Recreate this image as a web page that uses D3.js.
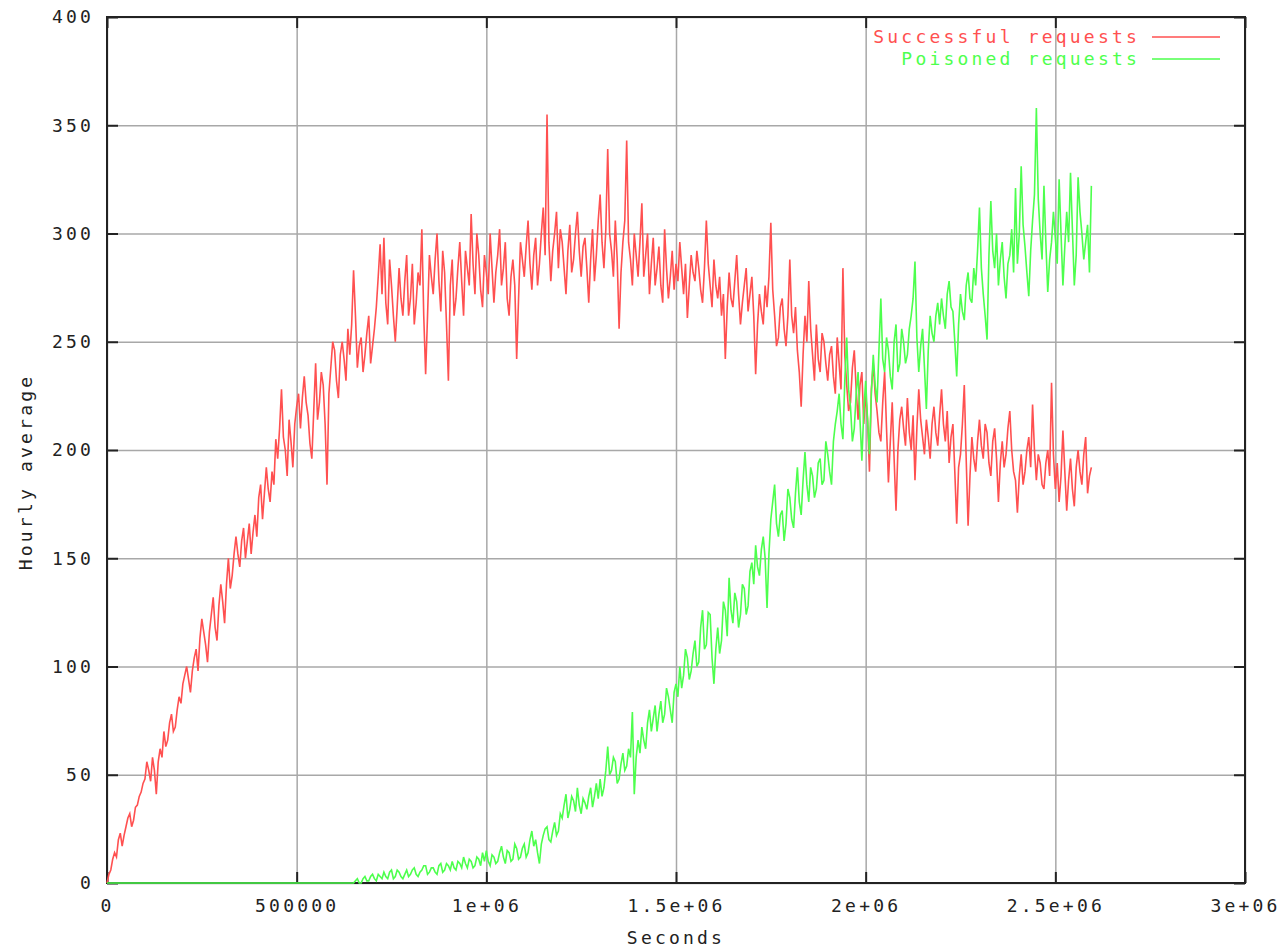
<!DOCTYPE html>
<html>
<head>
<meta charset="utf-8">
<script src="https://cdn.jsdelivr.net/npm/d3@7"></script>
<style>
  body { margin: 0; background: #fff; }
  text { font-family: "DejaVu Sans Mono", monospace; font-size: 18px; letter-spacing: 3.2px; }
</style>
</head>
<body>
<svg id="chart" width="1285" height="949"></svg>
<script>
// one sample every 5000 s, one row = 100000 s
const stepSeconds = 5000

const successful = [
  0, 4, 6, 11, 14, 12, 20, 23, 17, 22, 26, 30, 32, 26, 29, 35, 36, 40, 42, 46,
  48, 56, 52, 47, 58, 52, 41, 56, 62, 58, 70, 63, 66, 74, 78, 70, 72, 80, 86, 83,
  92, 96, 100, 94, 88, 98, 104, 108, 98, 113, 122, 116, 110, 102, 116, 124, 132, 118, 112, 128,
  138, 130, 120, 138, 150, 136, 142, 152, 160, 152, 146, 158, 164, 150, 158, 166, 152, 162, 170, 160,
  178, 184, 168, 180, 192, 182, 176, 190, 184, 205, 196, 210, 228, 206, 200, 188, 214, 204, 192, 212,
  220, 226, 210, 224, 234, 222, 216, 203, 196, 218, 240, 214, 222, 236, 230, 212, 184, 226, 238, 250,
  246, 232, 224, 244, 250, 242, 232, 256, 244, 258, 283, 262, 238, 248, 252, 236, 244, 254, 262, 240,
  248, 256, 266, 280, 295, 272, 298, 268, 258, 288, 276, 262, 250, 266, 284, 270, 262, 278, 290, 262,
  270, 286, 258, 268, 282, 276, 302, 262, 235, 262, 290, 280, 272, 288, 300, 278, 264, 292, 282, 258,
  232, 276, 288, 262, 270, 284, 296, 278, 262, 292, 284, 276, 309, 286, 272, 300, 290, 274, 266, 290,
  282, 272, 300, 284, 268, 282, 290, 302, 276, 284, 296, 270, 262, 280, 288, 276, 242, 270, 296, 288,
  280, 294, 306, 286, 274, 290, 298, 276, 286, 300, 312, 290, 355, 296, 278, 292, 300, 310, 284, 302,
  296, 284, 272, 292, 304, 282, 288, 300, 310, 292, 280, 294, 298, 284, 268, 288, 302, 278, 290, 306,
  318, 296, 284, 302, 339, 300, 292, 280, 306, 288, 256, 282, 296, 306, 343, 296, 288, 276, 300, 290,
  280, 296, 314, 280, 290, 300, 272, 286, 298, 276, 284, 294, 276, 268, 302, 284, 270, 280, 292, 274,
  286, 278, 296, 284, 272, 286, 261, 276, 290, 282, 278, 292, 284, 274, 268, 284, 306, 286, 276, 266,
  288, 276, 270, 280, 262, 272, 242, 266, 282, 270, 266, 278, 290, 272, 258, 268, 276, 284, 264, 272,
  280, 262, 235, 258, 272, 264, 258, 276, 266, 280, 305, 274, 262, 248, 252, 266, 270, 256, 248, 262,
  288, 262, 254, 266, 246, 236, 220, 244, 262, 250, 278, 256, 244, 232, 258, 242, 236, 254, 250, 240,
  232, 244, 248, 234, 226, 252, 240, 228, 284, 244, 230, 218, 222, 238, 246, 228, 214, 230, 236, 212,
  226, 214, 190, 228, 240, 226, 218, 208, 204, 222, 236, 210, 185, 204, 222, 196, 172, 200, 214, 220,
  210, 202, 224, 208, 200, 216, 186, 210, 228, 214, 206, 198, 214, 206, 196, 212, 220, 208, 202, 216,
  228, 212, 204, 218, 194, 206, 212, 190, 166, 192, 198, 212, 230, 196, 165, 188, 206, 196, 190, 204,
  214, 202, 196, 212, 208, 194, 188, 204, 210, 196, 176, 194, 204, 192, 198, 210, 218, 200, 190, 186,
  171, 188, 198, 184, 190, 200, 206, 192, 221, 200, 186, 198, 194, 184, 182, 194, 200, 188, 231, 198,
  182, 194, 176, 188, 209, 190, 172, 186, 196, 182, 174, 192, 200, 190, 184, 198, 206, 180, 188, 192
]

const poisoned = [
  0, 0, 0, 0, 0, 0, 0, 0, 0, 0, 0, 0, 0, 0, 0, 0, 0, 0, 0, 0,
  0, 0, 0, 0, 0, 0, 0, 0, 0, 0, 0, 0, 0, 0, 0, 0, 0, 0, 0, 0,
  0, 0, 0, 0, 0, 0, 0, 0, 0, 0, 0, 0, 0, 0, 0, 0, 0, 0, 0, 0,
  0, 0, 0, 0, 0, 0, 0, 0, 0, 0, 0, 0, 0, 0, 0, 0, 0, 0, 0, 0,
  0, 0, 0, 0, 0, 0, 0, 0, 0, 0, 0, 0, 0, 0, 0, 0, 0, 0, 0, 0,
  0, 0, 0, 0, 0, 0, 0, 0, 0, 0, 0, 0, 0, 0, 0, 0, 0, 0, 0, 0,
  0, 0, 0, 0, 0, 0, 0, 0, 0, 0, 0, 1, 2, 0, 0, 2, 3, 1, 1, 3,
  4, 2, 1, 4, 3, 2, 5, 3, 2, 5, 6, 2, 3, 6, 5, 3, 2, 4, 6, 3,
  4, 6, 7, 4, 3, 5, 6, 8, 8, 4, 5, 7, 7, 5, 4, 8, 9, 5, 6, 9,
  8, 6, 10, 7, 6, 10, 9, 7, 12, 9, 7, 11, 10, 7, 8, 12, 11, 8, 14, 10,
  15, 10, 8, 13, 12, 9, 10, 14, 17, 12, 9, 15, 14, 10, 11, 18, 16, 11, 12, 16,
  18, 12, 14, 20, 24, 17, 20, 14, 9, 18, 22, 25, 26, 20, 19, 24, 28, 22, 24, 32,
  30, 36, 41, 30, 34, 40, 38, 33, 44, 36, 32, 39, 37, 34, 40, 44, 35, 40, 46, 39,
  48, 40, 44, 52, 63, 50, 52, 58, 56, 46, 48, 55, 60, 52, 54, 62, 58, 79, 41, 58,
  66, 60, 72, 66, 62, 74, 80, 70, 76, 82, 70, 78, 84, 74, 78, 90, 86, 80, 74, 88,
  92, 86, 100, 90, 96, 108, 104, 94, 98, 106, 112, 100, 102, 118, 126, 108, 110, 125, 124, 104,
  92, 108, 118, 106, 112, 130, 126, 114, 141, 126, 120, 134, 130, 118, 124, 138, 136, 124, 128, 144,
  148, 138, 156, 146, 142, 154, 160, 150, 127, 152, 168, 176, 184, 166, 160, 170, 172, 158, 166, 182,
  178, 168, 164, 180, 192, 176, 170, 186, 199, 184, 176, 192, 188, 178, 182, 194, 196, 184, 186, 204,
  198, 190, 184, 204, 212, 218, 226, 212, 205, 232, 252, 228, 220, 204, 210, 226, 236, 214, 195, 218,
  232, 214, 198, 226, 244, 230, 222, 246, 270, 242, 236, 252, 246, 234, 228, 250, 258, 236, 240, 256,
  250, 240, 244, 256, 262, 270, 287, 252, 236, 248, 256, 238, 219, 246, 262, 254, 250, 262, 268, 258,
  270, 262, 256, 272, 278, 266, 264, 250, 234, 258, 272, 264, 260, 276, 282, 270, 268, 284, 276, 292,
  312, 284, 272, 262, 251, 290, 315, 292, 284, 300, 276, 288, 296, 280, 270, 286, 290, 302, 282, 321,
  286, 300, 331, 304, 294, 282, 271, 292, 306, 318, 358, 316, 300, 288, 322, 296, 273, 288, 296, 310,
  298, 286, 325, 300, 276, 294, 310, 296, 328, 302, 276, 290, 326, 310, 300, 288, 296, 304, 282, 322
]

const xTicks = [0, 500000, 1000000, 1500000, 2000000, 2500000, 3000000]
const xTickLabels = ['0', '500000', '1e+06', '1.5e+06', '2e+06', '2.5e+06', '3e+06']
const yTicks = [0, 50, 100, 150, 200, 250, 300, 350, 400]

const seriesNames = ['Successful requests', 'Poisoned requests']
const seriesColors = ['#ff5050', '#4dff4d']

const plotLeft = 107
const plotRight = 1245
const plotTop = 17
const plotBottom = 883
const tickLen = 11

const svg = d3.select('#chart')

const x = d3.scaleLinear().domain([0, 3000000]).range([plotLeft, plotRight])
const y = d3.scaleLinear().domain([0, 400]).range([plotBottom, plotTop])

// grid
svg.append('g')
  .attr('transform', `translate(0,${plotBottom})`)
  .call(d3.axisBottom(x).tickValues(xTicks).tickSize(-(plotBottom - plotTop)).tickFormat(''))
  .call(g => g.select('.domain').remove())
  .selectAll('line').attr('stroke', '#a8a8a8').attr('stroke-width', 1.5)
svg.append('g')
  .attr('transform', `translate(${plotLeft},0)`)
  .call(d3.axisLeft(y).tickValues(yTicks).tickSize(-(plotRight - plotLeft)).tickFormat(''))
  .call(g => g.select('.domain').remove())
  .selectAll('line').attr('stroke', '#a8a8a8').attr('stroke-width', 1.5)

// frame + inward ticks
function styleAxis (g) {
  g.select('.domain').remove()
  g.selectAll('line').attr('stroke', '#222').attr('stroke-width', 2)
  g.selectAll('text').attr('fill', '#222').style('font-family', '"DejaVu Sans Mono", monospace').style('font-size', '18px')
}
svg.append('g')
  .attr('transform', `translate(0,${plotBottom})`)
  .call(d3.axisBottom(x).tickValues(xTicks).tickSize(-tickLen).tickPadding(16)
    .tickFormat((d, i) => xTickLabels[i]))
  .call(styleAxis)
svg.append('g')
  .attr('transform', `translate(0,${plotTop})`)
  .call(d3.axisTop(x).tickValues(xTicks).tickSize(-tickLen).tickFormat(''))
  .call(styleAxis)
svg.append('g')
  .attr('transform', `translate(${plotLeft},0)`)
  .call(d3.axisLeft(y).tickValues(yTicks).tickSize(-tickLen).tickPadding(13))
  .call(styleAxis)
svg.append('g')
  .attr('transform', `translate(${plotRight},0)`)
  .call(d3.axisRight(y).tickValues(yTicks).tickSize(-tickLen).tickFormat(''))
  .call(styleAxis)

svg.append('rect')
  .attr('x', plotLeft).attr('y', plotTop)
  .attr('width', plotRight - plotLeft).attr('height', plotBottom - plotTop)
  .attr('fill', 'none').attr('stroke', '#222').attr('stroke-width', 2)

// series
const line = d3.line()
  .x((d, i) => x(i * stepSeconds))
  .y(d => y(d))

;[successful, poisoned].forEach((vals, k) => {
  svg.append('path')
    .datum(vals)
    .attr('fill', 'none')
    .attr('stroke', seriesColors[k])
    .attr('stroke-width', 1.6)
    .attr('stroke-linejoin', 'miter')
    .attr('d', line)
})

// legend
seriesNames.forEach((name, k) => {
  const ly = 37 + k * 22
  svg.append('text')
    .attr('x', 1140).attr('y', ly).attr('dy', '0.35em')
    .attr('text-anchor', 'end')
    .attr('fill', seriesColors[k])
    .text(name)
  svg.append('line')
    .attr('x1', 1152).attr('x2', 1220)
    .attr('y1', ly).attr('y2', ly)
    .attr('stroke', seriesColors[k]).attr('stroke-width', 1.6)
})

// axis titles
svg.append('text')
  .attr('transform', 'translate(26,472) rotate(-90)')
  .attr('text-anchor', 'middle')
  .attr('dy', '0.35em')
  .attr('fill', '#222')
  .text('Hourly average')
svg.append('text')
  .attr('x', 676).attr('y', 938)
  .attr('text-anchor', 'middle')
  .attr('dy', '0.35em')
  .attr('fill', '#222')
  .text('Seconds')
</script>
</body>
</html>
